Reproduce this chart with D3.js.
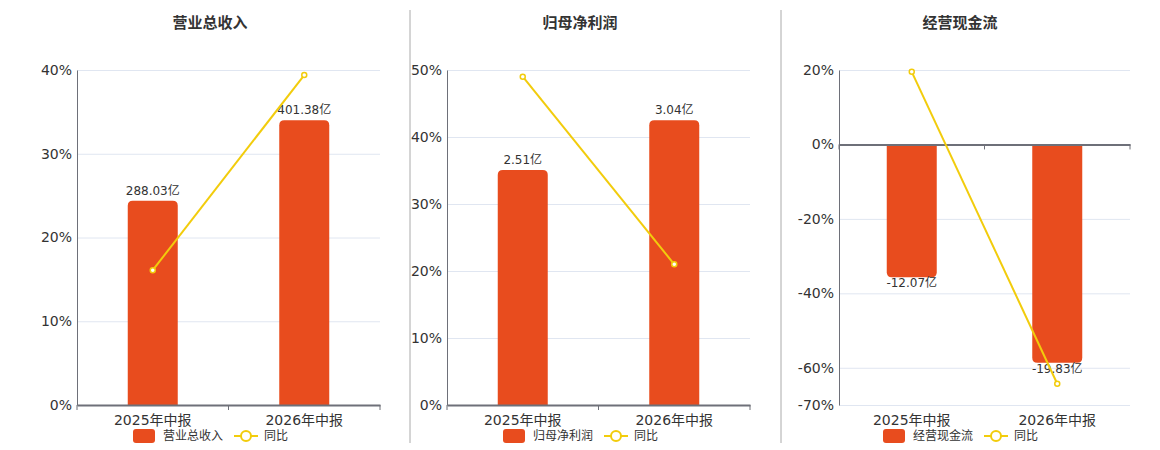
<!DOCTYPE html>
<html>
<head>
<meta charset="utf-8">
<script src="https://cdn.jsdelivr.net/npm/d3@7/dist/d3.min.js"></script>
<style>
  html, body { margin: 0; padding: 0; background: #fff; }
  svg { display: block; font-family: "DejaVu Sans", "Noto Sans CJK SC", sans-serif; }
</style>
</head>
<body>
<svg id="chart" width="1160" height="450"></svg>
<script>
// ---- data ----
const categories = ["2025年中报", "2026年中报"];
const titles = ["营业总收入", "归母净利润", "经营现金流"];
const revenueValues = [288.03, 401.38];      // 亿
const revenueYoY = [16.1, 39.4];             // %
const profitValues = [2.51, 3.04];           // 亿
const profitYoY = [49.0, 21.0];              // %
const cashflowValues = [-12.07, -19.83];     // 亿
const cashflowYoY = [19.5, -64.3];           // %
const revenueTicks = [0, 10, 20, 30, 40];
const profitTicks = [0, 10, 20, 30, 40, 50];
const cashflowTicks = [-70, -60, -40, -20, 0, 20];
const yoyLabel = "同比";

const panels = [
  { title: titles[0], values: revenueValues, yoy: revenueYoY, ticks: revenueTicks, domain: [0, 40],
    left: 77, right: 380, center: 210 },
  { title: titles[1], values: profitValues, yoy: profitYoY, ticks: profitTicks, domain: [0, 50],
    left: 447, right: 750, center: 580 },
  { title: titles[2], values: cashflowValues, yoy: cashflowYoY, ticks: cashflowTicks, domain: [-70, 20],
    left: 839, right: 1130, center: 960 }
];

const BAR = "#E84C1E", LINE = "#F2CC0C", TEXT = "#333", GRID = "#E0E6F1", AXIS = "#6E7079";
const plotTop = 70, plotBottom = 405;
const svg = d3.select("#chart");

// dividers
[410, 781].forEach(x => {
  svg.append("line").attr("x1", x).attr("x2", x).attr("y1", 10).attr("y2", 443)
    .attr("stroke", "#aaa").attr("stroke-width", 1);
});

panels.forEach(p => {
  const g = svg.append("g");
  const y = d3.scaleLinear().domain(p.domain).range([plotBottom, plotTop]);
  const x = d3.scaleBand().domain(categories).range([p.left, p.right]);
  const y0 = y(0);

  // title
  g.append("text").attr("x", p.center).attr("y", 28).attr("text-anchor", "middle")
    .attr("font-size", 15).attr("font-weight", "bold").attr("fill", TEXT)
    .attr("font-family", "'Noto Sans CJK SC', sans-serif").text(p.title);

  // grid lines
  g.selectAll(".grid").data(p.ticks).enter().append("line")
    .attr("x1", p.left).attr("x2", p.right)
    .attr("y1", d => y(d) + 0.5).attr("y2", d => y(d) + 0.5)
    .attr("stroke", GRID).attr("stroke-width", 1);

  // y axis
  const yAxis = d3.axisLeft(y).tickValues(p.ticks).tickFormat(d => d + "%").tickSize(0).tickPadding(5);
  const ya = g.append("g").attr("transform", `translate(${p.left},0)`).call(yAxis);
  ya.select(".domain").attr("stroke", AXIS).attr("stroke-width", 1);
  ya.selectAll("text").attr("font-size", 14).attr("fill", TEXT)
    .attr("font-family", "'DejaVu Sans', sans-serif");

  // bar scale (hidden axis), zero aligned with yoy axis zero
  const neg = d3.min(p.values) < 0;
  const maxAbs = d3.max(p.values, v => Math.abs(v)) / (neg ? 0.838 : 0.85);
  const yb = neg
    ? d3.scaleLinear().domain([-maxAbs, 0]).range([plotBottom, y0])
    : d3.scaleLinear().domain([0, maxAbs]).range([y0, plotTop]);

  const bw = 50;
  const r = 5;
  p.values.forEach((v, i) => {
    const cx = x(categories[i]) + x.bandwidth() / 2;
    const x0 = cx - bw / 2, x1 = cx + bw / 2;
    const yv = yb(v);
    let path;
    if (v >= 0) {
      path = `M${x0},${y0} L${x0},${yv + r} Q${x0},${yv} ${x0 + r},${yv} L${x1 - r},${yv} Q${x1},${yv} ${x1},${yv + r} L${x1},${y0} Z`;
    } else {
      path = `M${x0},${y0} L${x0},${yv - r} Q${x0},${yv} ${x0 + r},${yv} L${x1 - r},${yv} Q${x1},${yv} ${x1},${yv - r} L${x1},${y0} Z`;
    }
    g.append("path").attr("d", path).attr("fill", BAR);
    g.append("text").attr("x", cx).attr("y", v >= 0 ? yv - 6 : yv + 1)
      .attr("text-anchor", "middle").attr("dominant-baseline", v >= 0 ? "auto" : "hanging")
      .attr("font-size", 12).attr("fill", TEXT).text(v.toFixed(2) + "亿");
  });

  // x axis at zero
  const xAxis = d3.axisBottom(x).tickSize(0).tickFormat("");
  const xa = g.append("g").attr("transform", `translate(0,${y0})`).call(xAxis);
  xa.select(".domain").attr("stroke", AXIS).attr("stroke-width", 2);
  // boundary ticks
  const bounds = [p.left, p.left + x.bandwidth(), p.right];
  g.selectAll(".btick").data(bounds).enter().append("line")
    .attr("x1", d => d).attr("x2", d => d).attr("y1", y0).attr("y2", y0 + 5)
    .attr("stroke", AXIS).attr("stroke-width", 1);
  // category labels at bottom
  categories.forEach(c => {
    g.append("text").attr("x", x(c) + x.bandwidth() / 2).attr("y", 425)
      .attr("text-anchor", "middle").attr("font-size", 14).attr("fill", TEXT).text(c);
  });

  // yoy line
  const line = d3.line().x((d, i) => x(categories[i]) + x.bandwidth() / 2).y(d => y(d));
  g.append("path").datum(p.yoy).attr("d", line).attr("fill", "none")
    .attr("stroke", LINE).attr("stroke-width", 2);
  g.selectAll(".pt").data(p.yoy).enter().append("circle")
    .attr("cx", (d, i) => x(categories[i]) + x.bandwidth() / 2).attr("cy", d => y(d))
    .attr("r", 2.5).attr("fill", "#fff").attr("stroke", LINE).attr("stroke-width", 1.5);

  // legend
  const lx = p.center - 77;
  const ly = 436;
  g.append("rect").attr("x", lx).attr("y", ly - 7).attr("width", 22).attr("height", 14)
    .attr("rx", 3).attr("fill", BAR);
  g.append("text").attr("x", lx + 30).attr("y", ly).attr("dominant-baseline", "central")
    .attr("font-size", 12).attr("fill", TEXT).text(p.title);
  const lx2 = lx + 30 + p.title.length * 12 + 11;
  g.append("line").attr("x1", lx2).attr("x2", lx2 + 24).attr("y1", ly).attr("y2", ly)
    .attr("stroke", LINE).attr("stroke-width", 2);
  g.append("circle").attr("cx", lx2 + 12).attr("cy", ly).attr("r", 5)
    .attr("fill", "#fff").attr("stroke", LINE).attr("stroke-width", 2);
  g.append("text").attr("x", lx2 + 30).attr("y", ly).attr("dominant-baseline", "central")
    .attr("font-size", 12).attr("fill", TEXT).text(yoyLabel);
});
</script>
</body>
</html>
